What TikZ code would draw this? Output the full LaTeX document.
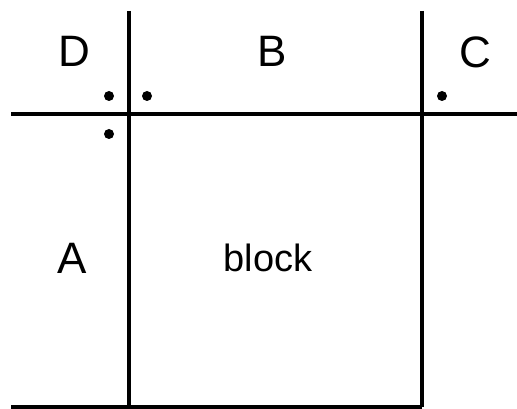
\documentclass[tikz,border=0pt]{standalone}
\usepackage{fontspec}
\setmainfont{Liberation Sans}
\begin{document}
\begin{tikzpicture}[x=1pt,y=-1pt,
  rule/.style={line width=4.6pt,black},
  dotmark/.style={fill=black,draw=none},
  lettertext/.style={inner sep=0pt,font=\fontsize{44}{44}\selectfont},
  blocktext/.style={inner sep=0pt,font=\fontsize{38}{38}\selectfont}]
\useasboundingbox[fill=white] (0,0) rectangle (517,409);
% lines
\coordinate (hl) at (11,114);
\coordinate (hr) at (517,114);
\coordinate (v1t) at (129,11);
\coordinate (v1b) at (129,407);
\coordinate (v2t) at (422,11);
\coordinate (v2b) at (422,407);
\coordinate (bl) at (11,407);
\draw[rule] (hl) -- (hr);
\draw[rule] (v1t) -- (v1b);
\draw[rule] (v2t) -- (v2b);
\draw[rule] (bl) -- (v2b);
% dots
\fill[dotmark] (109,96) circle (5pt);
\fill[dotmark] (147,96) circle (5pt);
\fill[dotmark] (109,134) circle (5pt);
\fill[dotmark] (442,96) circle (5pt);
% labels
\node[lettertext] (D) at (74,51) {D};
\node[lettertext] (B) at (272,51) {B};
\node[lettertext] (C) at (475,52) {C};
\node[lettertext] (A) at (72,258) {A};
\node[blocktext] (blk) at (268,258) {block};
\end{tikzpicture}
\end{document}
